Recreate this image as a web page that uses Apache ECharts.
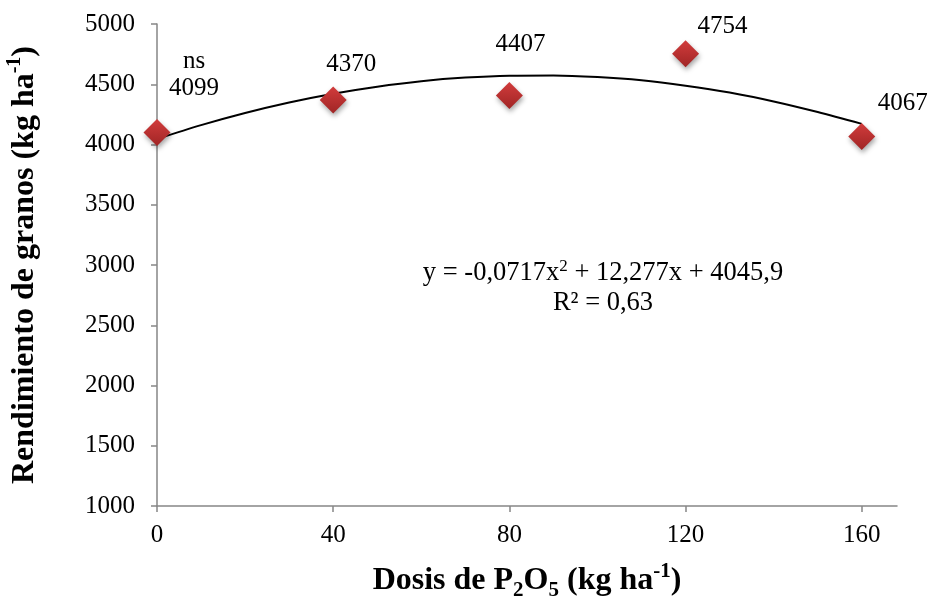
<!DOCTYPE html>
<html>
<head>
<meta charset="utf-8">
<script src="https://cdn.jsdelivr.net/npm/echarts@6/dist/echarts.min.js"></script>
<style>
html,body{margin:0;padding:0;background:#fff;}
#c{width:931px;height:596px;}
</style>
</head>
<body>
<div id="c"></div>
<script>
// Data
const doses = [0, 40, 80, 120, 160];
const yields = [4099, 4370, 4407, 4754, 4067];
const significance = ['ns', '', '', '', ''];
// Trend curve points
const trendX = [0, 10, 20, 30, 40, 50, 60, 70, 80, 90, 100, 110, 120, 130, 140, 150, 160];
const trendY = [4046, 4161, 4262, 4349, 4422, 4480, 4525, 4555, 4571, 4573, 4560, 4533, 4488, 4431, 4357, 4269, 4171];
const xTicks = [0, 40, 80, 120, 160];
const yTicks = [1000, 1500, 2000, 2500, 3000, 3500, 4000, 4500, 5000];
const equationText = 'y = -0,0717x{sup|2} + 12,277x + 4045,9';
const r2Text = 'R² = 0,63';

// label offsets (styling, px)
const labelOffsets = [[37, -58], [18, -35], [11, -51], [37, -27], [41, -33]];

const FONT = '"Liberation Serif", "Times New Roman", serif';
const axisColor = '#868686';

const chart = echarts.init(document.getElementById('c'), null, {renderer: 'canvas'});

const scatterData = doses.map((d, i) => ({
  value: [d, yields[i]],
  label: {
    offset: labelOffsets[i],
    formatter: (significance[i] ? significance[i] + '\n' : '') + yields[i]
  }
}));

const option = {
  backgroundColor: '#fff',
  animation: false,
  grid: {left: 157, right: 34, top: 24, bottom: 90, containLabel: false, outerBoundsMode: 'none'},
  xAxis: {
    type: 'value',
    min: 0, max: 168, interval: 40,
    axisLine: {show: true, lineStyle: {color: axisColor, width: 1.5}},
    axisTick: {show: true, length: 6, lineStyle: {color: axisColor, width: 1.5},
      customValues: xTicks},
    axisLabel: {color: '#000', fontFamily: FONT, fontSize: 25, margin: 17,
      customValues: xTicks, showMaxLabel: true, formatter: v => String(v)},
    splitLine: {show: false},
    name: '{b|Dosis de P}{sub|2}{b|O}{sub|5}{b| (kg ha}{sup|-1}{b|)}',
    nameLocation: 'middle',
    nameGap: 55,
    nameTextStyle: {
      rich: {
        b: {fontFamily: FONT, fontWeight: 'bold', fontSize: 32, color: '#000', lineHeight: 40},
        sub: {fontFamily: FONT, fontWeight: 'bold', fontSize: 21, color: '#000', verticalAlign: 'bottom', lineHeight: 27},
        sup: {fontFamily: FONT, fontWeight: 'bold', fontSize: 21, color: '#000', verticalAlign: 'top', lineHeight: 27}
      }
    }
  },
  yAxis: {
    type: 'value',
    min: 1000, max: 5000, interval: 500,
    axisLine: {show: true, lineStyle: {color: axisColor, width: 1.5}},
    axisTick: {show: true, length: 6, lineStyle: {color: axisColor, width: 1.5}},
    axisLabel: {color: '#000', fontFamily: FONT, fontSize: 25, margin: 22,
      customValues: yTicks, formatter: v => String(v)},
    splitLine: {show: false},
    name: '{b|Rendimiento de granos (kg ha}{sup|-1}{b|)}',
    nameLocation: 'middle',
    nameGap: 112,
    nameTextStyle: {
      rich: {
        b: {fontFamily: FONT, fontWeight: 'bold', fontSize: 32, color: '#000', lineHeight: 40},
        sup: {fontFamily: FONT, fontWeight: 'bold', fontSize: 20, color: '#000', verticalAlign: 'top', lineHeight: 27}
      }
    }
  },
  series: [
    {
      type: 'line',
      data: trendX.map((x, i) => [x, trendY[i]]),
      smooth: 0.3,
      showSymbol: false,
      symbol: 'none',
      lineStyle: {color: '#000', width: 2},
      z: 2,
      silent: true
    },
    {
      type: 'scatter',
      data: scatterData,
      symbol: 'diamond',
      symbolSize: 27,
      itemStyle: {
        opacity: 1,
        color: new echarts.graphic.LinearGradient(0, 0, 0, 1, [
          {offset: 0, color: '#d23c3c'},
          {offset: 1, color: '#a02525'}
        ]),
        shadowBlur: 5,
        shadowColor: 'rgba(0,0,0,0.35)',
        shadowOffsetX: 1,
        shadowOffsetY: 3
      },
      label: {
        show: true,
        position: 'inside',
        color: '#000',
        textBorderWidth: 0,
        textBorderColor: 'transparent',
        textShadowBlur: 0,
        fontFamily: FONT,
        fontSize: 25,
        lineHeight: 27,
        align: 'center'
      },
      z: 3
    }
  ],
  graphic: [
    {
      type: 'text',
      x: 603, y: 288,
      style: {
        text: '{m|' + equationText.replace('{sup|2}', '}{sup|2}{m|') + '}\n{m|' + r2Text + '}',
        fill: '#000',
        align: 'center',
        verticalAlign: 'middle',
        rich: {
          m: {font: '26.5px ' + FONT, fill: '#000', lineHeight: 30, align: 'center'},
          sup: {font: '17px ' + FONT, fill: '#000', verticalAlign: 'top', lineHeight: 20}
        }
      }
    }
  ]
};
chart.setOption(option);
</script>
</body>
</html>
